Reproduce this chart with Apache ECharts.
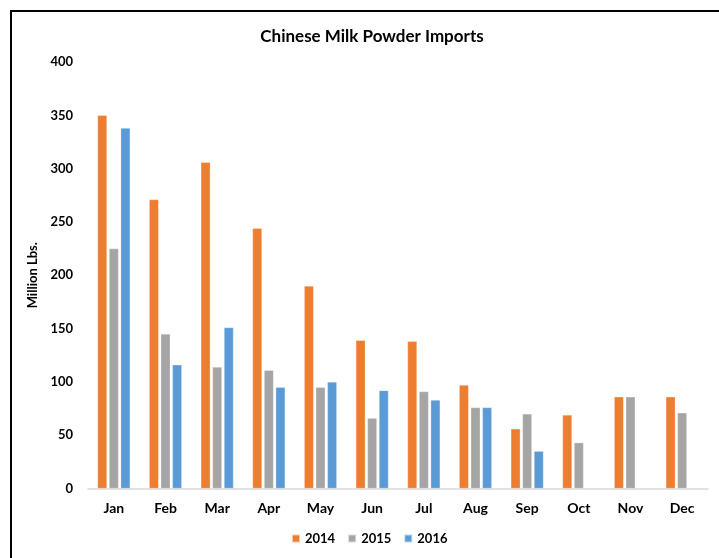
<!DOCTYPE html>
<html>
<head>
<meta charset="utf-8">
<script src="https://cdn.jsdelivr.net/npm/echarts@6/dist/echarts.min.js"></script>
<style>
html,body{margin:0;padding:0;background:#fff;}
#c{width:719px;height:558px;}
</style>
</head>
<body>
<div id="c"></div>
<script>
var months = ['Jan','Feb','Mar','Apr','May','Jun','Jul','Aug','Sep','Oct','Nov','Dec'];
var s2014 = [350, 271, 306, 244, 190, 139, 138, 97, 56, 69, 86, 86];
var s2015 = [225, 145, 114, 111, 95, 66, 91, 76, 70, 43, 86, 71];
var s2016 = [338, 116, 151, 95, 100, 92, 83, 76, 35, null, null, null];
var seriesNames = ['2014','2015','2016'];
var colors = ['#ED7D31','#A5A5A5','#5B9BD5'];

var chart = echarts.init(document.getElementById('c'));
var font = 'Lato';
var data = [s2014, s2015, s2016];
chart.setOption({
  animation: false,
  textStyle: {fontFamily: font},
  title: {
    text: 'Chinese Milk Powder Imports',
    left: 367, top: 23, textAlign: 'center',
    textStyle: {fontFamily: font, fontSize: 17, fontWeight: 'bold', color: '#000'}
  },
  legend: {
    data: seriesNames,
    top: 527, left: 286,
    itemWidth: 8, itemHeight: 8, itemGap: 12,
    icon: 'rect',
    textStyle: {fontFamily: font, fontSize: 13, fontWeight: 'bold', color: '#000'}
  },
  grid: {left: 88, right: 11, top: 62, bottom: 69.5},
  xAxis: {
    type: 'category',
    data: months,
    axisLine: {lineStyle: {color: '#d9d9d9', width: 1.5}},
    axisTick: {show: false},
    axisLabel: {fontFamily: font, fontSize: 14, fontWeight: 'bold', color: '#000', margin: 13}
  },
  yAxis: {
    type: 'value', min: 0, max: 400, interval: 50,
    name: 'Million Lbs.', nameLocation: 'middle', nameGap: 40, nameRotate: 90,
    nameTextStyle: {fontFamily: font, fontSize: 13, fontWeight: 'bold', color: '#000'},
    axisLine: {show: false},
    axisTick: {show: false},
    splitLine: {show: false},
    axisLabel: {fontFamily: font, fontSize: 13, fontWeight: 'bold', color: '#000', margin: 15}
  },
  series: seriesNames.map(function(n, i){
    return {
      name: n, type: 'bar', data: data[i],
      barWidth: 9.5, barGap: '22%',
      itemStyle: {color: colors[i], borderColor: 'rgba(255,255,255,0.6)', borderWidth: 0.5}
    };
  }),
  graphic: [
    {type: 'line', shape: {x1: 10, y1: 11, x2: 719, y2: 11}, style: {stroke: '#000', lineWidth: 2}},
    {type: 'line', shape: {x1: 11, y1: 10, x2: 11, y2: 558}, style: {stroke: '#000', lineWidth: 2}}
  ]
});
</script>
</body>
</html>
